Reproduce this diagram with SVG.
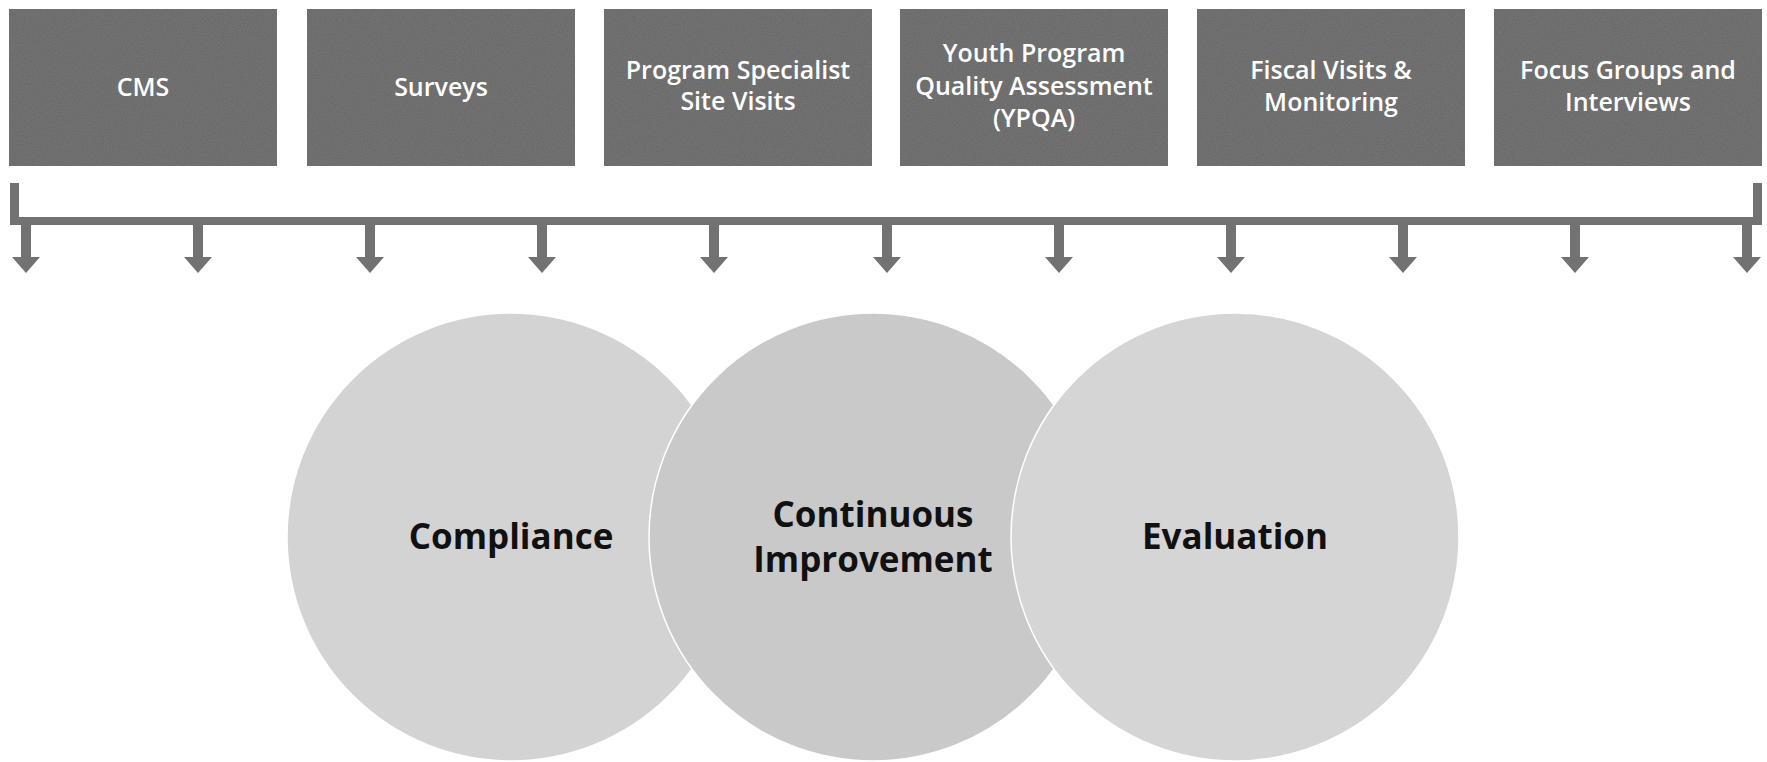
<svg xmlns="http://www.w3.org/2000/svg" width="1767" height="762" viewBox="0 0 1767 762">
<defs>
<style>
.box{fill:#646464;}
.bt{font-family:"Open Sans",Lato,sans-serif;font-weight:600;font-size:25px;fill:#ffffff;text-anchor:middle;}
.bar{fill:#727272;}
.circ{stroke:#ffffff;stroke-width:1.5;}
.ct{font-family:"Open Sans",Lato,sans-serif;font-weight:bold;font-size:35px;fill:#111111;text-anchor:middle;}
</style>
<filter id="grain" x="0" y="0" width="100%" height="100%">
<feTurbulence type="fractalNoise" baseFrequency="0.9" numOctaves="1" seed="3" result="n"/>
<feColorMatrix in="n" type="matrix" values="0 0 0 0 0.5  0 0 0 0 0.5  0 0 0 0 0.5  0 0 0 0.18 0" result="g"/>
<feComposite in="g" in2="SourceGraphic" operator="in" result="gi"/>
<feMerge><feMergeNode in="SourceGraphic"/><feMergeNode in="gi"/></feMerge>
</filter>
</defs>
<rect width="1767" height="762" fill="#ffffff"/>

<g id="node-cms">
<rect class="box" x="9" y="9" width="268" height="157" filter="url(#grain)"/>
<text class="bt" x="143" y="96">CMS</text>
</g>
<g id="node-surveys">
<rect class="box" x="307" y="9" width="268" height="157" filter="url(#grain)"/>
<text class="bt" x="441" y="96">Surveys</text>
</g>
<g id="node-site-visits">
<rect class="box" x="604" y="9" width="268" height="157" filter="url(#grain)"/>
<text class="bt" x="738" y="79">Program Specialist</text>
<text class="bt" x="738" y="110">Site Visits</text>
</g>
<g id="node-ypqa">
<rect class="box" x="900" y="9" width="268" height="157" filter="url(#grain)"/>
<text class="bt" x="1034" y="62">Youth Program</text>
<text class="bt" x="1034" y="95">Quality Assessment</text>
<text class="bt" x="1034" y="127">(YPQA)</text>
</g>
<g id="node-fiscal">
<rect class="box" x="1197" y="9" width="268" height="157" filter="url(#grain)"/>
<text class="bt" x="1331" y="79">Fiscal Visits &amp;</text>
<text class="bt" x="1331" y="111">Monitoring</text>
</g>
<g id="node-focus">
<rect class="box" x="1494" y="9" width="268" height="157" filter="url(#grain)"/>
<text class="bt" x="1628" y="79">Focus Groups and</text>
<text class="bt" x="1628" y="111">Interviews</text>
</g>

<g id="connectors" class="bar">
<path d="M10,183 H19 V217 H1753 V183 H1762 V225 H10 Z"/>
<path d="M21,225 h10 v32 h9 l-14,16 l-14,-16 h9 z"/>
<path d="M193,225 h10 v32 h9 l-14,16 l-14,-16 h9 z"/>
<path d="M365,225 h10 v32 h9 l-14,16 l-14,-16 h9 z"/>
<path d="M537,225 h10 v32 h9 l-14,16 l-14,-16 h9 z"/>
<path d="M709,225 h10 v32 h9 l-14,16 l-14,-16 h9 z"/>
<path d="M882,225 h10 v32 h9 l-14,16 l-14,-16 h9 z"/>
<path d="M1054,225 h10 v32 h9 l-14,16 l-14,-16 h9 z"/>
<path d="M1226,225 h10 v32 h9 l-14,16 l-14,-16 h9 z"/>
<path d="M1398,225 h10 v32 h9 l-14,16 l-14,-16 h9 z"/>
<path d="M1570,225 h10 v32 h9 l-14,16 l-14,-16 h9 z"/>
<path d="M1742,225 h10 v32 h9 l-14,16 l-14,-16 h9 z"/>
</g>

<g id="node-compliance">
<circle class="circ" cx="511" cy="537" r="224" fill="#d3d3d3"/>
<text class="ct" x="511" y="549">Compliance</text>
</g>
<g id="node-continuous">
<circle class="circ" cx="873" cy="537" r="224" fill="#c9c9c9"/>
<text class="ct" x="873" y="527">Continuous</text>
<text class="ct" x="873" y="572">Improvement</text>
</g>
<g id="node-evaluation">
<circle class="circ" cx="1235" cy="537" r="224" fill="#d5d5d5"/>
<text class="ct" x="1235" y="549">Evaluation</text>
</g>
</svg>
